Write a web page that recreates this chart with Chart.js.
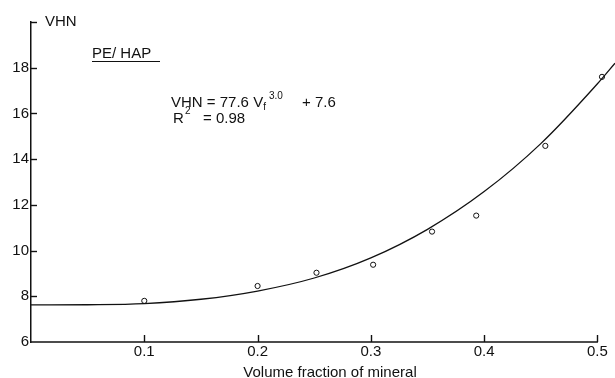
<!DOCTYPE html>
<html>
<head>
<meta charset="utf-8">
<script src="https://cdn.jsdelivr.net/npm/chart.js@4.4.1/dist/chart.umd.min.js"></script>
<style>
  html, body { margin: 0; padding: 0; background: #fff; }
  #wrap { width: 615px; height: 378px; }
</style>
</head>
<body>
<div id="wrap"><canvas id="vhnChart"></canvas></div>
<script>
// measured points (volume fraction vs VHN)
const pointX = [0.1, 0.2, 0.252, 0.302, 0.354, 0.393, 0.454, 0.504];
const pointY = [7.8, 8.45, 9.03, 9.38, 10.83, 11.53, 14.58, 17.6];

// fitted curve
const curveX = [0, 0.05, 0.1, 0.15, 0.2, 0.25, 0.3, 0.35, 0.4, 0.45, 0.5, 0.5155];
const curveY = [7.62, 7.63, 7.68, 7.87, 8.23, 8.8, 9.68, 10.93, 12.58, 14.68, 17.3, 18.2];

const xTickValues = [0, 0.1, 0.2, 0.3, 0.4, 0.5];
const yTickValues = [6, 8, 10, 12, 14, 16, 18, 20];

const ink = '#111';
const fontFamily = "'Liberation Sans', Arial, sans-serif";

// x axis line (stops at 0.5), inward ticks + free text
const decorations = {
    id: 'decorations',
    afterDraw(chart) {
        const ctx = chart.ctx;
        const area = chart.chartArea;
        const xs = chart.scales.x;
        const ys = chart.scales.y;
        ctx.save();
        ctx.strokeStyle = ink;
        ctx.fillStyle = ink;
        ctx.lineWidth = 1.5;

        const xEnd = xs.getPixelForValue(xTickValues[xTickValues.length - 1]);
        ctx.beginPath();
        ctx.moveTo(area.left, area.bottom);
        ctx.lineTo(xEnd + 0.5, area.bottom);
        ctx.stroke();

        ctx.lineWidth = 1.4;
        yTickValues.forEach(function(v) {
            if (v <= 6) return;
            const py = Math.round(ys.getPixelForValue(v)) + 0.5;
            ctx.beginPath();
            ctx.moveTo(area.left, py);
            ctx.lineTo(area.left + 6, py);
            ctx.stroke();
        });
        xTickValues.forEach(function(v) {
            if (v <= 0) return;
            const px = Math.round(xs.getPixelForValue(v)) + 0.5;
            ctx.beginPath();
            ctx.moveTo(px, area.bottom);
            ctx.lineTo(px, area.bottom - 7);
            ctx.stroke();
        });

        ctx.font = '15px ' + fontFamily;
        ctx.textBaseline = 'alphabetic';
        ctx.textAlign = 'left';

        // axis names
        ctx.fillText('VHN', area.left + 14, area.top + 4);
        ctx.textAlign = 'center';
        ctx.fillText('Volume fraction of mineral', 330, 377);

        // label
        ctx.textAlign = 'left';
        ctx.fillText('PE/ HAP', 92, 58);
        ctx.lineWidth = 1.2;
        ctx.beginPath();
        ctx.moveTo(92, 61.5);
        ctx.lineTo(160, 61.5);
        ctx.stroke();

        // equation
        ctx.fillText('VHN = 77.6 V', 171, 107);
        const w = ctx.measureText('VHN = 77.6 V').width;
        ctx.fillText('+ 7.6', 302, 107);
        ctx.fillText('R', 173, 123);
        ctx.fillText('= 0.98', 203, 123);
        ctx.font = '10px ' + fontFamily;
        ctx.fillText('f', 171 + w, 110);
        ctx.fillText('3.0', 269, 98.5);
        ctx.fillText('2', 185, 113.5);
        ctx.restore();
    }
};

const ctx = document.getElementById('vhnChart').getContext('2d');

new Chart(ctx, {
    type: 'scatter',
    data: {
        datasets: [{
            label: 'fit',
            type: 'line',
            data: curveX.map((x, i) => ({ x: x, y: curveY[i] })),
            borderColor: ink,
            borderWidth: 1.3,
            pointRadius: 0,
            fill: false,
            cubicInterpolationMode: 'monotone',
            clip: false
        }, {
            label: 'PE/HAP',
            data: pointX.map((x, i) => ({ x: x, y: pointY[i] })),
            backgroundColor: '#fff',
            borderColor: ink,
            borderWidth: 1,
            pointRadius: 2.6,
            clip: false
        }]
    },
    options: {
        responsive: true,
        maintainAspectRatio: false,
        animation: false,
        layout: {
            autoPadding: false,
            padding: { top: 22, right: 0, left: 0, bottom: 0 }
        },
        scales: {
            x: {
                type: 'linear',
                min: 0,
                max: 0.5155,
                afterBuildTicks: function(scale) {
                    scale.ticks = xTickValues.map(v => ({ value: v }));
                },
                afterFit: function(scale) {
                    scale.height = 36;
                    scale.paddingLeft = 0;
                    scale.paddingRight = 0;
                },
                grid: { display: false, drawTicks: false },
                border: { display: false },
                ticks: {
                    padding: 1,
                    color: ink,
                    maxRotation: 0,
                    font: { size: 15, family: fontFamily },
                    callback: function(v) { return v < 1e-9 ? '' : v.toFixed(1); }
                }
            },
            y: {
                min: 6,
                max: 20,
                afterBuildTicks: function(scale) {
                    scale.ticks = yTickValues.map(v => ({ value: v }));
                },
                afterFit: function(scale) {
                    scale.width = 31;
                    scale.paddingTop = 0;
                    scale.paddingBottom = 0;
                },
                grid: { display: false, drawTicks: false },
                border: { display: true, color: ink, width: 1.5 },
                ticks: {
                    padding: 2,
                    color: ink,
                    font: { size: 15, family: fontFamily },
                    callback: function(v) { return v === 20 ? '' : String(v); }
                }
            }
        },
        plugins: {
            legend: { display: false },
            tooltip: { enabled: false }
        }
    },
    plugins: [decorations]
});
</script>
</body>
</html>
